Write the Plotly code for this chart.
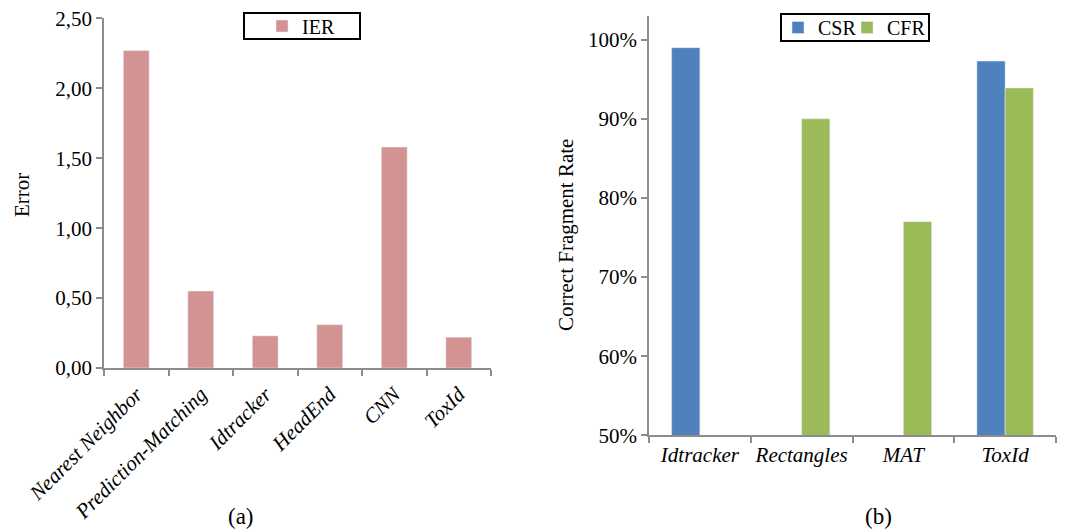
import plotly.graph_objects as go

# Left chart data
methods_a = ["Nearest Neighbor", "Prediction-Matching", "Idtracker", "HeadEnd", "CNN", "ToxId"]
ier = [2.27, 0.55, 0.23, 0.31, 1.58, 0.22]

# Right chart data
methods_b = ["Idtracker", "Rectangles", "MAT", "ToxId"]
csr = [0.99, 0.0, 0.0, 0.973]
cfr = [0.0, 0.90, 0.77, 0.939]

# Axis tick values
ticks_a = [0, 0.5, 1.0, 1.5, 2.0, 2.5]
ticks_b = [0.5, 0.6, 0.7, 0.8, 0.9, 1.0]

FONT = "Liberation Serif, Times New Roman, Times, serif"
AXIS_COLOR = "#8c8c8c"
FS = 21

# page offset (body margin) compensation
W, H, OFF = 1064, 523, 8
def px(X):
    return (X - OFF) / W
def py(Y):
    return 1 - (Y - OFF) / H

fig = go.Figure()
fig.add_trace(go.Bar(x=methods_a, y=ier, name="IER", marker_color="#D39393",
                     width=0.4, xaxis="x", yaxis="y", legend="legend"))
fig.add_trace(go.Bar(x=methods_b, y=csr, name="CSR", marker_color="#4F81BD",
                     xaxis="x2", yaxis="y2", legend="legend2"))
fig.add_trace(go.Bar(x=methods_b, y=cfr, name="CFR", marker_color="#9BBB59",
                     xaxis="x2", yaxis="y2", legend="legend3"))

axis_common = dict(showline=True, linecolor=AXIS_COLOR, linewidth=1.5, ticks="outside",
                   tickcolor=AXIS_COLOR, ticklen=6, tickwidth=1.5, showgrid=False,
                   zeroline=False, automargin=False, ticklabeloverflow="allow")

legend_common = dict(xanchor="left", yanchor="middle", orientation="h",
                     bgcolor="rgba(0,0,0,0)", font=dict(family=FONT, size=20),
                     itemwidth=30, tracegroupgap=0)

fig.update_layout(
    width=W, height=H,
    margin=dict(l=0, r=0, t=0, b=0, autoexpand=False),
    paper_bgcolor="white", plot_bgcolor="white",
    font=dict(family=FONT, color="black", size=FS),
    separators=",.",
    barmode="group", bargap=0.445, bargroupgap=0,
    xaxis=dict(domain=[px(104), px(491)], anchor="y", tickangle=-45,
               tickfont=dict(family=FONT, size=FS, style="italic"),
               ticklabelstandoff=4, tickson="boundaries", **axis_common),
    yaxis=dict(domain=[py(368), py(18)], anchor="x", range=[0, 2.503],
               tickmode="array", tickvals=ticks_a,
               tickformat=".2f", tickfont=dict(family=FONT, size=FS), **axis_common),
    xaxis2=dict(domain=[px(649), px(1056)], anchor="y2", tickangle=0,
                tickfont=dict(family=FONT, size=FS, style="italic"),
                tickson="boundaries", **axis_common),
    yaxis2=dict(domain=[py(435.3), py(16)], anchor="x2", range=[0.5, 1.03],
                tickmode="array", tickvals=ticks_b,
                tickformat=".0%", tickfont=dict(family=FONT, size=FS), **axis_common),
    legend=dict(x=px(262), y=py(26), **legend_common),
    legend2=dict(x=px(778), y=py(27.5), **legend_common),
    legend3=dict(x=px(847), y=py(27.5), **legend_common),
    showlegend=True,
)

# legend frames
fig.add_shape(type="rect", xref="paper", yref="paper",
              x0=px(244), x1=px(360), y0=py(39), y1=py(13),
              line=dict(color="black", width=2), fillcolor="rgba(0,0,0,0)")
fig.add_shape(type="rect", xref="paper", yref="paper",
              x0=px(781), x1=px(929), y0=py(41), y1=py(14),
              line=dict(color="black", width=2), fillcolor="rgba(0,0,0,0)")

# axis titles and panel labels
fig.add_annotation(text="Error", xref="paper", yref="paper", x=px(22), y=py(195),
                   xanchor="center", yanchor="middle",
                   textangle=-90, showarrow=False, font=dict(family=FONT, size=FS))
fig.add_annotation(text="Correct Fragment Rate", xref="paper", yref="paper", x=px(566),
                   y=py(235), xanchor="center", yanchor="middle",
                   textangle=-90, showarrow=False, font=dict(family=FONT, size=FS))
fig.add_annotation(text="(a)", xref="paper", yref="paper", x=px(241), y=py(516),
                   xanchor="center", yanchor="middle",
                   showarrow=False, font=dict(family=FONT, size=23))
fig.add_annotation(text="(b)", xref="paper", yref="paper", x=px(878), y=py(516),
                   xanchor="center", yanchor="middle",
                   showarrow=False, font=dict(family=FONT, size=23))

fig.write_html("out.html")
